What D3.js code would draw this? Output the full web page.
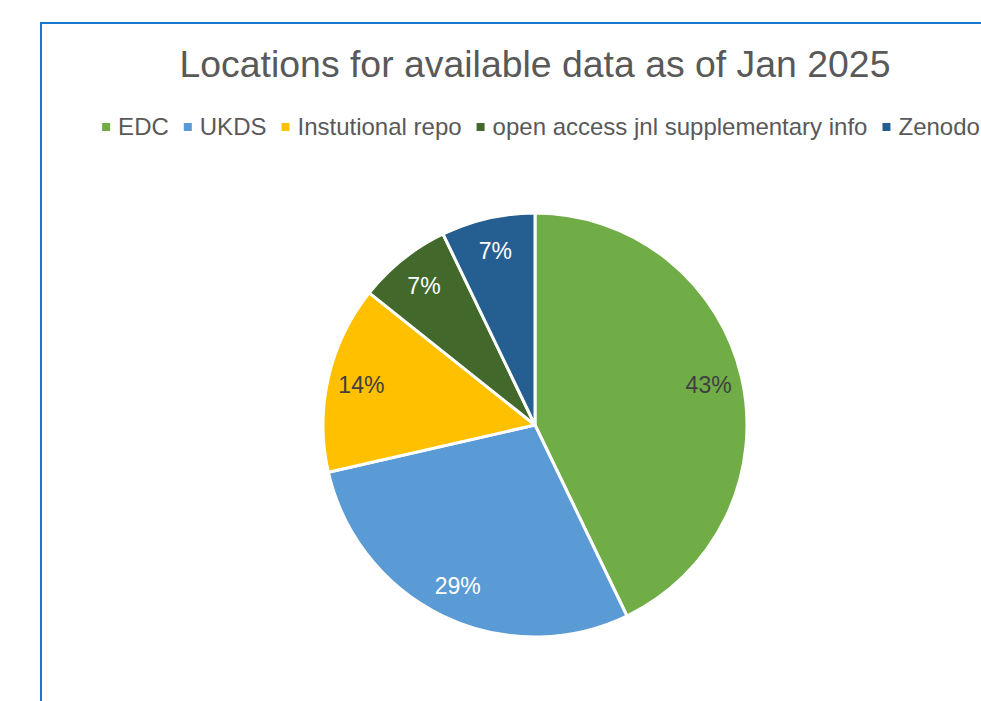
<!DOCTYPE html>
<html>
<head>
<meta charset="utf-8">
<script src="https://cdn.jsdelivr.net/npm/d3@7"></script>
<style>
body{margin:0;background:#fff;}
text{font-family:"Liberation Sans",Arial,sans-serif;}
</style>
</head>
<body>
<svg id="graph"></svg>
<script>
var locations = ["EDC","UKDS","Instutional repo","open access jnl supplementary info","Zenodo"]
var counts = [6,4,2,1,1]
var colours = ["#70AD47","#5B9BD5","#FFC000","#43682B","#255E91"]
var labelColours = ["#404040","#ffffff","#404040","#ffffff","#ffffff"]
var title = "Locations for available data as of Jan 2025"

var screen = {width:981,height:701}
var pieCentre = {x:535,y:425}
var radius = 212

var svg = d3.select("#graph")
    .attr("width",screen.width)
    .attr("height",screen.height)

var drawFrame = function()
{
    svg.append("path")
        .attr("d","M41,"+screen.height+" V23 H"+screen.width)
        .attr("fill","none")
        .attr("stroke","#1877CF")
        .attr("stroke-width",2)
}

var drawTitle = function()
{
    svg.append("text")
        .text(title)
        .attr("x",535)
        .attr("y",77)
        .attr("text-anchor","middle")
        .attr("font-size",37.4)
        .attr("fill","#595959")
}

var drawLegend = function()
{
    var legend = svg.append("g")
        .classed("legend",true)

    var entries = legend.selectAll("g")
        .data(locations)
        .enter()
        .append("g")

    entries.append("rect")
        .attr("width",8)
        .attr("height",8)
        .attr("y",-12)
        .attr("fill",function(d,i){return colours[i]})

    entries.append("text")
        .text(function(d){return d})
        .attr("x",16)
        .attr("font-size",24)
        .attr("fill","#595959")

    // lay entries out one after another
    var xPos = 0
    entries.each(function(d,i)
    {
        var w = d3.select(this).select("text").node().getComputedTextLength()
        d3.select(this).attr("transform","translate("+xPos+",0)")
        xPos += 16+w+15
    })
    var total = xPos-15
    legend.attr("transform","translate("+(541-total/2)+",135)")
}

var drawPie = function()
{
    var pie = d3.pie()
        .sort(null)
        .value(function(d){return d})

    var arc = d3.arc()
        .innerRadius(0)
        .outerRadius(radius)

    var labelArc = d3.arc()
        .innerRadius(radius*0.84)
        .outerRadius(radius*0.84)

    var target = svg.append("g")
        .attr("transform","translate("+pieCentre.x+","+pieCentre.y+")")

    var total = d3.sum(counts)

    target.selectAll("path")
        .data(pie(counts))
        .enter()
        .append("path")
        .attr("d",arc)
        .attr("fill",function(d,i){return colours[i]})
        .attr("stroke","#ffffff")
        .attr("stroke-width",3)
        .attr("stroke-linejoin","round")

    target.selectAll("text")
        .data(pie(counts))
        .enter()
        .append("text")
        .text(function(d){return Math.round(d.value/total*100)+"%"})
        .attr("transform",function(d){return "translate("+labelArc.centroid(d)+")"})
        .attr("text-anchor","middle")
        .attr("dy","0.35em")
        .attr("font-size",23)
        .attr("fill",function(d,i){return labelColours[i]})
}

drawFrame()
drawTitle()
drawLegend()
drawPie()
</script>
</body>
</html>
